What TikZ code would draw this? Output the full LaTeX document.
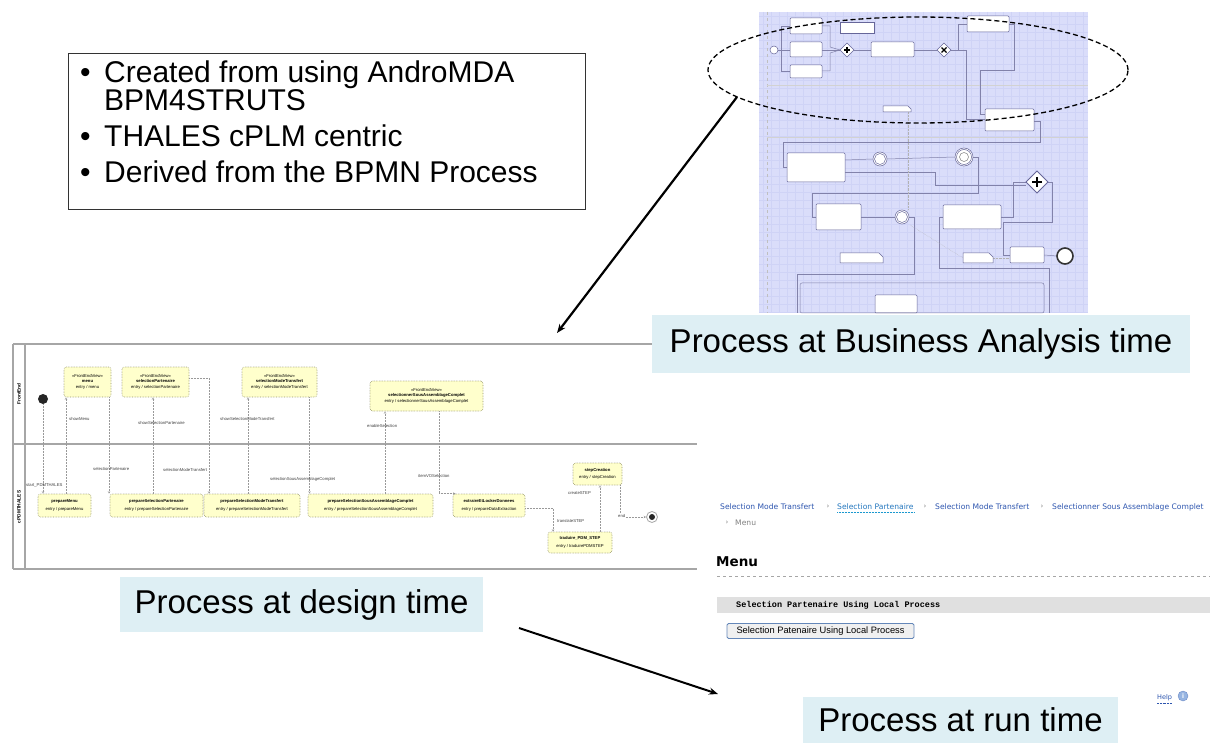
\documentclass[tikz,border=0pt]{standalone}
\usepackage{fontspec}
\setmainfont{Liberation Sans}
\newfontfamily\dejavu{DejaVu Sans}
\newfontfamily\lmono{Liberation Mono}
\usetikzlibrary{shapes.geometric,arrows.meta}
\definecolor{lbl}{RGB}{222,239,244}
\definecolor{lav}{RGB}{218,221,250}
\definecolor{lavgrid}{RGB}{207,211,246}
\definecolor{ybox}{RGB}{255,255,204}
\definecolor{ybord}{RGB}{150,150,110}
\definecolor{linkblue}{RGB}{45,85,175}
\definecolor{bline}{RGB}{130,130,170}
\newcommand\fsz[1]{\fontsize{#1}{#1}\selectfont}
\tikzset{
  lblbox/.style={fill=lbl, inner sep=0pt, font=\fsz{33}},
  yb/.style={rectangle, rounded corners=2.5pt, fill=ybox, draw=ybord, densely dotted, line width=0.6pt, inner sep=0pt, align=center, font=\fsz{4.2}},
  conn/.style={draw=gray!80, densely dotted, line width=0.5pt, -{Stealth[open,length=2.5pt,width=2.5pt]}},
  elab/.style={font=\fsz{4.2}, text=black!75, inner sep=0pt, anchor=west},
  bt/.style={draw=gray!80!blue, fill=white, line width=0.5pt, rounded corners=1pt},
  bc/.style={draw=bline, line width=0.5pt},
  crumb/.style={font=\dejavu\fsz{7.6}, text=linkblue, inner sep=0pt, anchor=west},
  sep/.style={font=\dejavu\fsz{7}, text=gray, inner sep=0pt},
  bigarrow/.style={line width=2.2pt, -{Stealth[length=9pt,width=7pt]}},
}
\begin{document}
\begin{tikzpicture}[x=1pt,y=-1pt]
\useasboundingbox (0,0) rectangle (1210,743);
\fill[white] (0,0) rectangle (1210,743);

% ---------------- info box
\node[draw=black!80, line width=0.8pt, minimum width=517pt, minimum height=156pt, anchor=north west, inner sep=0pt] (info) at (68,53) {};
\node[inner sep=0pt, anchor=base west, font=\fsz{30}] (b1) at (80,83) {\textbullet};
\node[inner sep=0pt, anchor=base west, font=\fsz{30}] (t1) at (104,83) {Created from using AndroMDA};
\node[inner sep=0pt, anchor=base west, font=\fsz{30}] (t1b) at (104,111) {BPM4STRUTS};
\node[inner sep=0pt, anchor=base west, font=\fsz{30}] (b2) at (80,147) {\textbullet};
\node[inner sep=0pt, anchor=base west, font=\fsz{30}] (t2) at (104,147) {THALES cPLM centric};
\node[inner sep=0pt, anchor=base west, font=\fsz{30}] (b3) at (80,183) {\textbullet};
\node[inner sep=0pt, anchor=base west, font=\fsz{30}] (t3) at (104,183) {Derived from the BPMN Process};

% ---------------- BPMN screenshot
\fill[lav] (759,12) rectangle (1088,313);
\foreach \gx in {763,771,...,1087} \draw[lavgrid, line width=0.25pt] (\gx,12) -- (\gx,313);
\foreach \gy in {16,24,...,312} \draw[lavgrid, line width=0.25pt] (759,\gy) -- (1088,\gy);
\draw[gray!50, dashed, line width=0.4pt] (767,12) -- (767,313);
\draw[gray!35, line width=0.4pt] (767,85) -- (1088,85);
\draw[gray!35, line width=0.4pt] (767,137) -- (1088,137);
% connectors
\draw[bc] (778,50) -- (790,50);
\draw[bc] (781,50) -- (781,26) -- (790,26);
\draw[bc] (781,50) -- (781,71) -- (790,71);
\draw[bc] (822,26) -- (830,26) -- (830,47) -- (840,50);
\draw[bc] (822,50) -- (840,50);
\draw[bc] (822,71) -- (830,71) -- (830,53) -- (840,50);
\draw[bc] (854,50) -- (871,50);
\draw[bc] (914,50) -- (937,50);
\draw[bc] (951,50) -- (958,50) -- (958,24) -- (967,24);
\draw[bc] (951,50) -- (966,50) -- (966,119) -- (985,119);
\draw[bc] (1009,24) -- (1014,24) -- (1014,70) -- (980,70) -- (980,114) -- (985,114);
\draw[bc] (1034,121) -- (1040,121) -- (1040,142) -- (783,142) -- (783,167) -- (787,167);
\draw[bc] (845,160) -- (873,159);
\draw[bc] (887,159) -- (955,157);
\draw[bc] (845,172) -- (935,172) -- (935,185) -- (1026,185);
\draw[bc] (973,157) -- (978,157) -- (978,193) -- (812,193) -- (812,217) -- (816,217);
\draw[bc] (861,217) -- (895,217);
\draw[bc] (909,217) -- (914,217) -- (914,274) -- (797,274) -- (797,313);
\draw[bc] (1001,217) -- (1013,217) -- (1013,182) -- (1026,182);
\draw[bc] (1048,182) -- (1052,182) -- (1052,222) -- (1003,222) -- (1003,255) -- (1010,255);
\draw[bc] (1044,255) -- (1057,256);
\draw[bc] (943,217) -- (939,217) -- (939,268) -- (1049,268) -- (1049,313);
\draw[gray!60, densely dotted, line width=0.4pt] (908,112) -- (908,210);
\draw[gray!60, densely dotted, line width=0.4pt] (910,225) -- (963,258);
\draw[gray!60, densely dotted, line width=0.4pt] (993,258) -- (1010,258);
% tasks and artefacts
\draw[bt] (790,18) rectangle (822,34);
\draw[bt] (790,42) rectangle (822,57);
\draw[bt] (790,65) rectangle (822,78);
\draw[bt] (871,42) rectangle (914,57);
\draw[bt] (967,16) rectangle (1009,32);
\draw[bt] (985,109) rectangle (1034,131);
\draw[bt] (787,153) rectangle (845,182);
\draw[bt] (816,204) rectangle (861,230);
\draw[bt] (943,205) rectangle (1001,229);
\draw[bt] (1010,247) rectangle (1044,263);
\draw[bt] (875,295) rectangle (917,313);
\draw[bt, rounded corners=0pt] (840,22) -- (874,22) -- (874,33) -- (840,33) -- cycle;
\draw[bt, rounded corners=0pt] (883,106) -- (908,106) -- (911,109) -- (911,112) -- (883,112) -- cycle;
\draw[bt, rounded corners=0pt] (840,253) -- (879,253) -- (883,257) -- (883,263) -- (840,263) -- cycle;
\draw[bt, rounded corners=0pt] (963,253) -- (989,253) -- (993,257) -- (993,263) -- (963,263) -- cycle;
\draw[bc, rounded corners=2pt] (800,283) rectangle (1044,313);
% events
\draw[bt, rounded corners=0pt] (774,50) circle[radius=4];
\draw[bt, rounded corners=0pt] (880,159) circle[radius=7];
\draw[bt, rounded corners=0pt] (880,159) circle[radius=5.5];
\draw[bt, rounded corners=0pt] (964,157) circle[radius=9];
\draw[bt, rounded corners=0pt] (964,157) circle[radius=7.5];
\draw[gray, line width=0.5pt] (964,157) circle[radius=4.5];
\draw[bt, rounded corners=0pt] (902,217) circle[radius=7];
\draw[bt, rounded corners=0pt] (902,217) circle[radius=5.5];
\draw[black!80, fill=white, line width=1.6pt] (1065,256) circle[radius=8];
% gateways
\draw[bt, rounded corners=0pt] (847,43) -- (854,50) -- (847,57) -- (840,50) -- cycle;
\draw[black, line width=1.2pt] (844,50) -- (850,50) (847,47) -- (847,53);
\draw[bt, rounded corners=0pt] (944,43) -- (951,50) -- (944,57) -- (937,50) -- cycle;
\draw[black, line width=1.2pt] (941.5,47.5) -- (946.5,52.5) (946.5,47.5) -- (941.5,52.5);
\draw[bt, rounded corners=0pt, line width=0.8pt] (1037,171) -- (1048,182) -- (1037,193) -- (1026,182) -- cycle;
\draw[black, line width=2.2pt] (1032,182) -- (1042,182) (1037,177) -- (1037,187);

% focus ellipse
\node[draw=black, dash pattern=on 5pt off 3pt, line width=1.3pt, ellipse, minimum width=420pt, minimum height=106pt, inner sep=0pt] (focus) at (918,70) {};

% ---------------- activity diagram
\draw[gray!70, line width=1.1pt] (13,344) -- (652,344);
\draw[gray!70, line width=1.1pt] (13,444) -- (697,444);
\draw[gray!70, line width=1.1pt] (13,569) -- (697,569);
\draw[gray!70, line width=1.1pt] (13,344) -- (13,569);
\draw[gray!70, line width=1.1pt] (25,344) -- (25,569);
\node[rotate=90, font=\fsz{4.8}\bfseries, inner sep=0pt] (laneA) at (19,394) {FrontEnd};
\node[rotate=90, font=\fsz{4.8}\bfseries, inner sep=0pt] (laneB) at (19,507) {cPDMTHALES};

\node[yb, minimum width=47pt, minimum height=30pt] (menu) at (87.5,382) {<<FrontEndView>>\\[1pt]\textbf{menu}\\[2pt]entry / menu};
\node[yb, minimum width=67pt, minimum height=30pt] (selP) at (155.5,382) {<<FrontEndView>>\\[1pt]\textbf{selectionPartenaire}\\[2pt]entry / selectionPartenaire};
\node[yb, minimum width=75pt, minimum height=30pt] (selM) at (279.5,382) {<<FrontEndView>>\\[1pt]\textbf{selectionModeTransfert}\\[2pt]entry / selectionModeTransfert};
\node[yb, minimum width=113pt, minimum height=30pt] (selSA) at (426.5,396) {<<FrontEndView>>\\[1pt]\textbf{selectionnerSousAssemblageComplet}\\[2pt]entry / selectionnerSousAssemblageComplet};
\node[yb, minimum width=53pt, minimum height=23pt] (prepMenu) at (64.5,505.5) {\textbf{prepareMenu}\\[3pt]entry / prepareMenu};
\node[yb, minimum width=93pt, minimum height=23pt] (prepSP) at (156.5,505.5) {\textbf{prepareSelectionPartenaire}\\[3pt]entry / prepareSelectionPartenaire};
\node[yb, minimum width=96pt, minimum height=23pt] (prepSM) at (252,505.5) {\textbf{prepareSelectionModeTransfert}\\[3pt]entry / prepareSelectionModeTransfert};
\node[yb, minimum width=125pt, minimum height=23pt] (prepSSA) at (370.5,505.5) {\textbf{prepareSelectionSousAssemblageComplet}\\[3pt]entry / prepareSelectionSousAssemblageComplet};
\node[yb, minimum width=72pt, minimum height=23pt] (extract) at (489,505.5) {\textbf{extraireEtLockerDonnees}\\[3pt]entry / prepareDataExtraction};
\node[yb, minimum width=64pt, minimum height=21pt] (traduire) at (580,542.5) {\textbf{traduire\_PDM\_STEP}\\[3pt]entry / traduirePDMSTEP};
\node[yb, minimum width=49pt, minimum height=22pt] (stepC) at (597.5,474) {\textbf{stepCreation}\\[3pt]entry / stepCreation};
\node[circle, fill=black!85, minimum size=10pt, inner sep=0pt] (init) at (43,399) {};
\node[circle, draw=gray!70, line width=0.8pt, fill=white, minimum size=11pt, inner sep=0pt] (final) at (652,517) {};
\fill[black!85] (final) circle[radius=3];

\draw[conn] (init) -- (init |- prepMenu.north);
\draw[conn] ([xshift=1.5pt]prepMenu.north) -- ([xshift=1.5pt]prepMenu.north |- menu.south);
\draw[conn] ([xshift=21.5pt]menu.south) -- ([xshift=21.5pt]menu.south |- prepSP.north);
\draw[conn] ([xshift=-3.5pt]prepSP.north) -- ([xshift=-3.5pt]prepSP.north |- selP.south);
\draw[conn] ([yshift=4pt]selP.east) -| ([xshift=-43pt]prepSM.north);
\draw[conn] ([xshift=-4pt]prepSM.north) -- ([xshift=-4pt]prepSM.north |- selM.south);
\draw[conn] ([xshift=30pt]selM.south) -- ([xshift=30pt]selM.south |- prepSSA.north);
\draw[conn] ([xshift=14.5pt]prepSSA.north) -- ([xshift=14.5pt]prepSSA.north |- selSA.south);
\draw[conn] ([xshift=12.5pt]selSA.south) |- ([xshift=3pt]extract.north west);
\draw[conn] ([yshift=-2.5pt]extract.east) -| ([xshift=-27pt]traduire.north);
\draw[conn] ([xshift=20pt]traduire.north) -- ([xshift=20pt]traduire.north |- stepC.south);
\draw[conn] ([xshift=22.5pt]stepC.south) |- (final.west);

\node[elab] (l1) at (26,485) {start\_PDMTHALES};
\node[elab] (l2) at (69,419) {showMenu};
\node[elab] (l3) at (93,469) {selectionPartenaire};
\node[elab] (l4) at (138,423) {showSelectionPartenaire};
\node[elab] (l5) at (163,470) {selectionModeTransfert};
\node[elab] (l6) at (220,419) {showSelectionModeTransfert};
\node[elab] (l7) at (270,479) {selectionSousAssemblageComplet};
\node[elab] (l8) at (367,426) {enableSelection};
\node[elab] (l9) at (418,476) {itemVOSelection};
\node[elab] (l10) at (557,521) {translateSTEP};
\node[elab] (l11) at (568,493) {createSTEP};
\node[elab, fill=white] (l12) at (618,516) {end};

% ---------------- web page screenshot
\node[crumb] (c1) at (720,507) {Selection Mode Transfert};
\node[sep] (s1) at (828,507) {›};
\node[crumb, text=linkblue!80!cyan] (c2) at (837,507) {Selection Partenaire};
\draw[linkblue!60!cyan, densely dotted, line width=0.5pt] ([yshift=-2pt]c2.south west) -- ([yshift=-2pt]c2.south east);
\node[sep] (s2) at (925,507) {›};
\node[crumb] (c3) at (935,507) {Selection Mode Transfert};
\node[sep] (s3) at (1042,507) {›};
\node[crumb] (c4) at (1052,507) {Selectionner Sous Assemblage Complet};
\node[sep] (s4) at (727,523) {›};
\node[crumb, text=gray] (c5) at (735,523) {Menu};
\node[font=\dejavu\bfseries\fsz{13.5}, inner sep=0pt, anchor=west] (menuh) at (716,562) {Menu};
\draw[gray!70, dashed, line width=0.6pt] (717,576) -- (1210,576);
\fill[black!12] (717,597) rectangle (1210,613);
\node[font=\lmono\bfseries\fsz{8.5}, inner sep=0pt, anchor=west] (band) at (736,605) {Selection Partenaire Using Local Process};
\node[draw={rgb,255:red,100;green,135;blue,185}, fill=black!6, rounded corners=1.5pt, line width=0.8pt, minimum width=187pt, minimum height=15pt, inner sep=0pt, font=\fsz{9.3}] (btn) at (820.5,631) {Selection Patenaire Using Local Process};
\node[font=\dejavu\fsz{6.5}, text=linkblue, inner sep=0pt, anchor=west] (help) at (1157,698) {Help};
\draw[linkblue, densely dotted, line width=0.4pt] ([yshift=-1.5pt]help.south west) -- ([yshift=-1.5pt]help.south east);
\node[circle, fill={rgb,255:red,150;green,180;blue,225}, draw={rgb,255:red,110;green,140;blue,200}, minimum size=10pt, inner sep=0pt, text=white, font=\fsz{7}\bfseries] (helpi) at (1183,696) {i};

% ---------------- caption boxes
\node[lblbox, minimum width=538pt, minimum height=58pt] (lba) at (921,344) {Process at Business Analysis time};
\node[lblbox, minimum width=363pt, minimum height=55pt] (lbd) at (301.5,604.5) {Process at design time};
\node[lblbox, minimum width=315pt, minimum height=46pt] (lbr) at (960.5,720) {Process at run time};

% ---------------- arrows
\coordinate (a1s) at (737,97);
\coordinate (a1e) at (557,333);
\draw[bigarrow] (a1s) -- (a1e);
\coordinate (a2s) at (519,628);
\coordinate (a2e) at (718,694);
\draw[bigarrow, line width=2pt] (a2s) -- (a2e);
\end{tikzpicture}
\end{document}
